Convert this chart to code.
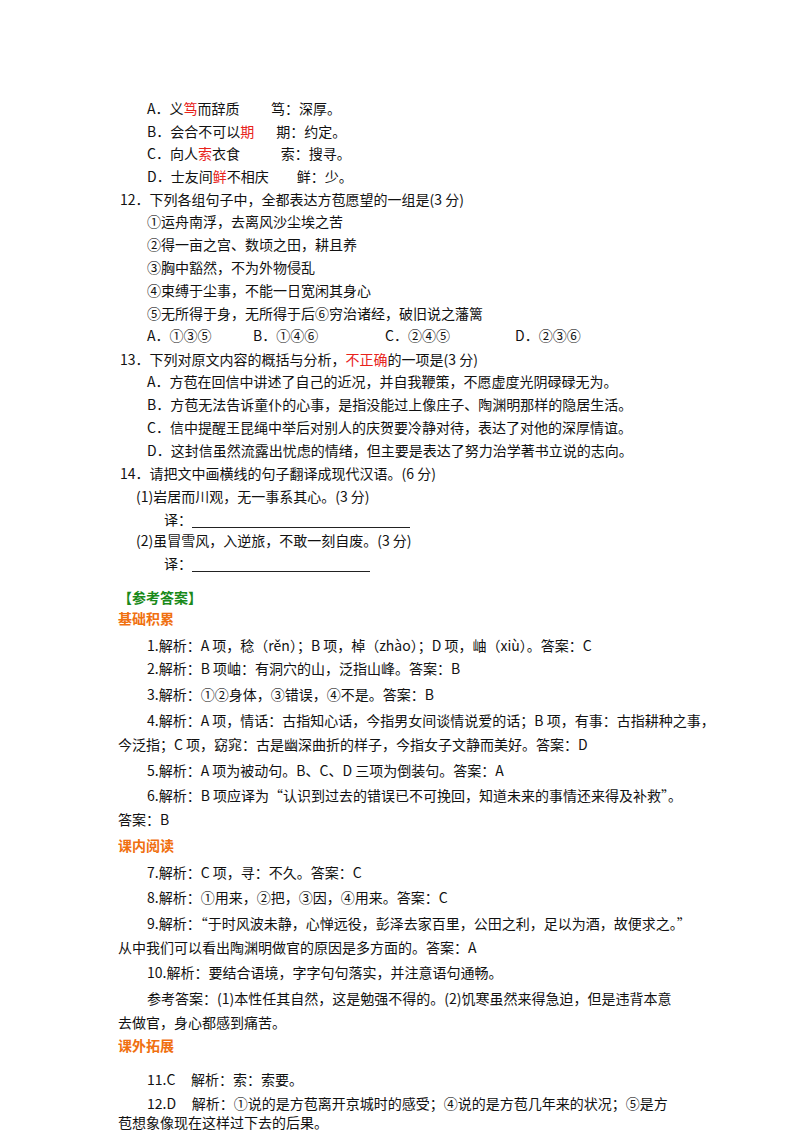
<!DOCTYPE html>
<html><head><meta charset="utf-8">
<script src="https://cdn.jsdelivr.net/npm/chart.js@4"></script>
<style>
body{margin:0;width:800px;height:1132px;background:#fff;position:relative;font-family:"Noto Sans CJK SC","DejaVu Serif",serif;color:#111;font-size:14px;overflow:hidden;}
.l{position:absolute;white-space:pre;line-height:18px;}
.r{color:#e8221b}.g{color:#1a8a1a;font-weight:bold}.o{color:#f07010;font-weight:bold}
.u{display:inline-block;border-bottom:1px solid #222;height:14px;vertical-align:bottom}
</style></head><body>
<script>
const lines=[
[147,108,'A．义<span class="r">笃</span>而辞质          笃：深厚。'],
[147,131,'B．会合不可以<span class="r">期</span>       期：约定。'],
[147,153,'C．向人<span class="r">索</span>衣食             索：搜寻。'],
[147,176,'D．士友间<span class="r">鲜</span>不相庆         鲜：少。'],
[120,199,'12．下列各组句子中，全都表达方苞愿望的一组是(3 分)'],
[147,221,'①运舟南浮，去离风沙尘埃之苦'],
[147,244,'②得一亩之宫、数顷之田，耕且养'],
[147,267,'③胸中豁然，不为外物侵乱'],
[147,290,'④束缚于尘事，不能一日宽闲其身心'],
[147,313,'⑤无所得于身，无所得于后⑥穷治诸经，破旧说之藩篱'],
[147,335,'A．①③⑤'],[253,335,'B．①④⑥'],[385,335,'C．②④⑤'],[515,335,'D．②③⑥'],
[120,359,'13．下列对原文内容的概括与分析，<span class="r">不正确</span>的一项是(3 分)'],
[147,381,'A．方苞在回信中讲述了自己的近况，并自我鞭策，不愿虚度光阴碌碌无为。'],
[147,404,'B．方苞无法告诉童仆的心事，是指没能过上像庄子、陶渊明那样的隐居生活。'],
[147,427,'C．信中提醒王昆绳中举后对别人的庆贺要冷静对待，表达了对他的深厚情谊。'],
[147,450,'D．这封信虽然流露出忧虑的情绪，但主要是表达了努力治学著书立说的志向。'],
[120,473,'14．请把文中画横线的句子翻译成现代汉语。(6 分)'],
[136,496,'(1)岩居而川观，无一事系其心。(3 分)'],
[164,519,'译：<span class="u" style="width:218px"></span>'],
[136,540,'(2)虽冒雪风，入逆旅，不敢一刻自废。(3 分)'],
[164,563,'译：<span class="u" style="width:178px"></span>'],
[118,597,'<span class="g">【参考答案】</span>'],
[118,618,'<span class="o">基础积累</span>'],
[147,645,'1.解析：A 项，稔（rěn）；B 项，棹（zhào）；D 项，岫（xiù）。答案：C'],
[147,668,'2.解析：B 项岫：有洞穴的山，泛指山峰。答案：B'],
[147,694,'3.解析：①②身体，③错误，④不是。答案：B'],
[147,720,'4.解析：A 项，情话：古指知心话，今指男女间谈情说爱的话；B 项，有事：古指耕种之事，'],
[118,744,'今泛指；C 项，窈窕：古是幽深曲折的样子，今指女子文静而美好。答案：D'],
[147,770,'5.解析：A 项为被动句。B、C、D 三项为倒装句。答案：A'],
[147,795,'6.解析：B 项应译为“认识到过去的错误已不可挽回，知道未来的事情还来得及补救”。'],
[118,819,'答案：B'],
[118,845,'<span class="o">课内阅读</span>'],
[147,872,'7.解析：C 项，寻：不久。答案：C'],
[147,897,'8.解析：①用来，②把，③因，④用来。答案：C'],
[147,923,'9.解析：“于时风波未静，心惮远役，彭泽去家百里，公田之利，足以为酒，故便求之。”'],
[118,947,'从中我们可以看出陶渊明做官的原因是多方面的。答案：A'],
[147,972,'10.解析：要结合语境，字字句句落实，并注意语句通畅。'],
[147,998,'参考答案：(1)本性任其自然，这是勉强不得的。(2)饥寒虽然来得急迫，但是违背本意'],
[118,1022,'去做官，身心都感到痛苦。'],
[118,1045,'<span class="o">课外拓展</span>'],
[147,1079,'11.C     解析：索：索要。'],
[147,1103,'12.D     解析：①说的是方苞离开京城时的感受；④说的是方苞几年来的状况；⑤是方'],
[118,1122,'苞想象像现在这样过下去的后果。']
];
for(const [x,y,t] of lines){const d=document.createElement('div');d.className='l';d.style.left=x+'px';d.style.top=(y-9)+'px';d.innerHTML=t;document.body.appendChild(d);}
</script>
</body></html>
